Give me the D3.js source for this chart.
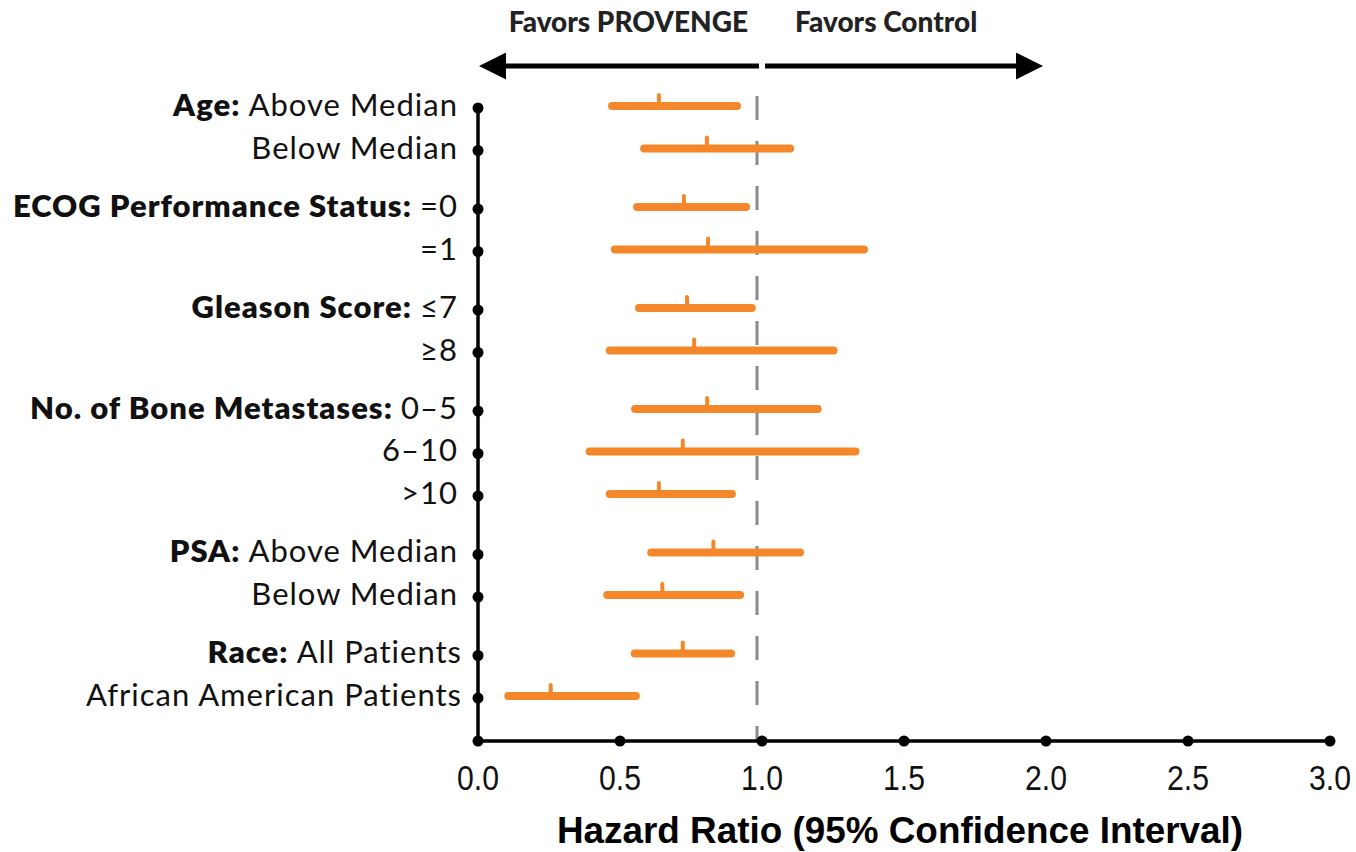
<!DOCTYPE html>
<meta charset="utf-8">
<style>
body { margin: 0; background: #fff; }
.rowlabel { font-family: Lato, "Noto Sans", sans-serif; font-size: 31px; letter-spacing: 1px; fill: #111; }
.favors { font-family: Lato, "Noto Sans", sans-serif; font-size: 28px; font-weight: 900; fill: #222; }
.tick-label { font-family: "Liberation Sans", Arial, sans-serif; font-size: 36px; fill: #111; }
.xtitle { font-family: "Liberation Sans", Arial, sans-serif; font-size: 37px; font-weight: 700; fill: #000; }
</style>
<body>
<svg width="1356" height="852"></svg>
<script src="https://cdn.jsdelivr.net/npm/d3@7"></script>
<script>
// subgroup rows, top to bottom
var boldText = ["Age:", "", "ECOG Performance Status:", "", "Gleason Score:", "", "No. of Bone Metastases:", "", "", "PSA:", "", "Race:", ""];
var plainText = ["Above Median", "Below Median", "=0", "=1", "\u22647", "\u22658", "0\u20135", "6\u201310", ">10", "Above Median", "Below Median", "All Patients", "African American Patients"];
var groupOf = [0, 0, 1, 1, 2, 2, 3, 3, 3, 4, 4, 5, 5];

// hazard ratio and 95% CI
var hr   = [0.637, 0.806, 0.725, 0.810, 0.736, 0.761, 0.807, 0.721, 0.637, 0.829, 0.649, 0.721, 0.256];
var ciLo = [0.472, 0.585, 0.560, 0.482, 0.567, 0.464, 0.553, 0.393, 0.464, 0.610, 0.455, 0.552, 0.107];
var ciHi = [0.912, 1.099, 0.944, 1.359, 0.964, 1.252, 1.196, 1.329, 0.894, 1.134, 0.923, 0.891, 0.556];

var xTicks = [0, 0.5, 1, 1.5, 2, 2.5, 3];
var xTickLabels = ["0.0", "0.5", "1.0", "1.5", "2.0", "2.5", "3.0"];

var svg = d3.select("svg");
var orange = "#f5872b";

var x = d3.scaleLinear().domain([0, 3]).range([478, 1330]);

var groupGap = 0.376;
var slot = function(i) { return i + groupOf[i] * groupGap; };
var y = d3.scaleLinear()
    .domain([0, slot(plainText.length - 1)])
    .range([106, 696]);

var axisY = 741;

// header arrows
svg.append("defs").append("marker")
    .attr("id", "arrow")
    .attr("viewBox", "0 0 10 10")
    .attr("refX", 0)
    .attr("refY", 5)
    .attr("markerWidth", 6.4)
    .attr("markerHeight", 5.4)
    .attr("markerUnits", "strokeWidth")
    .attr("orient", "auto")
  .append("path")
    .attr("d", "M0,0L10,5L0,10Z")
    .attr("fill", "#000");

svg.append("line")
    .attr("x1", x(1) - 3).attr("x2", x(0) + 28)
    .attr("y1", 66).attr("y2", 66)
    .attr("stroke", "#000").attr("stroke-width", 5)
    .attr("marker-end", "url(#arrow)");
svg.append("line")
    .attr("x1", x(1) + 3).attr("x2", x(2) - 30)
    .attr("y1", 66).attr("y2", 66)
    .attr("stroke", "#000").attr("stroke-width", 5)
    .attr("marker-end", "url(#arrow)");

svg.append("text").attr("class", "favors")
    .attr("x", x(1) - 14).attr("y", 32)
    .attr("text-anchor", "end")
    .text("Favors PROVENGE");
svg.append("text").attr("class", "favors")
    .attr("x", x(1) + 33).attr("y", 32)
    .text("Favors Control");

// reference line at HR = 1
svg.append("line")
    .attr("x1", x(1) - 5).attr("x2", x(1) - 5)
    .attr("y1", 96).attr("y2", axisY)
    .attr("stroke", "#8a8a8a").attr("stroke-width", 3)
    .attr("stroke-dasharray", "24,21");

// axes
svg.append("line")
    .attr("x1", x(0)).attr("x2", x(0))
    .attr("y1", y(0)).attr("y2", axisY)
    .attr("stroke", "#000").attr("stroke-width", 3.5);
svg.append("line")
    .attr("x1", x(0)).attr("x2", x(3))
    .attr("y1", axisY).attr("y2", axisY)
    .attr("stroke", "#000").attr("stroke-width", 3.5);

svg.append("g").selectAll("circle")
    .data(xTicks)
    .enter().append("circle")
      .attr("cx", function(d) { return x(d); })
      .attr("cy", axisY)
      .attr("r", 5.5)
      .attr("fill", "#000");

// narrow tick labels (squeezed horizontally)
svg.append("g").selectAll("text")
    .data(xTicks)
    .enter().append("text")
      .attr("class", "tick-label")
      .attr("transform", function(d) { return "translate(" + x(d) + ",790) scale(0.84,1)"; })
      .attr("text-anchor", "middle")
      .text(function(d, i) { return xTickLabels[i]; });

svg.append("text").attr("class", "xtitle")
    .attr("x", 900).attr("y", 843)
    .attr("text-anchor", "middle")
    .attr("textLength", 686)
    .attr("lengthAdjust", "spacingAndGlyphs")
    .text("Hazard Ratio (95% Confidence Interval)");

// rows
var rows = svg.append("g").selectAll("g")
    .data(plainText)
    .enter().append("g");

rows.append("circle")
    .attr("cx", x(0))
    .attr("cy", function(d, i) { return y(slot(i)) + 2; })
    .attr("r", 5.5)
    .attr("fill", "#000");

var label = rows.append("text")
    .attr("class", "rowlabel")
    .attr("x", function(d, i) { return groupOf[i] == 5 ? 462 : 458; })
    .attr("y", function(d, i) { return y(slot(i)) + 10; })
    .attr("text-anchor", "end");
label.append("tspan")
    .attr("font-weight", 800)
    .text(function(d, i) { return boldText[i] ? boldText[i] + " " : ""; });
label.append("tspan")
    .text(function(d) { return d; });

rows.append("line")
    .attr("x1", function(d, i) { return x(ciLo[i]); })
    .attr("x2", function(d, i) { return x(ciHi[i]); })
    .attr("y1", function(d, i) { return y(slot(i)); })
    .attr("y2", function(d, i) { return y(slot(i)); })
    .attr("stroke", orange).attr("stroke-width", 8)
    .attr("stroke-linecap", "round");

rows.append("line")
    .attr("x1", function(d, i) { return x(hr[i]); })
    .attr("x2", function(d, i) { return x(hr[i]); })
    .attr("y1", function(d, i) { return y(slot(i)) - 2; })
    .attr("y2", function(d, i) { return y(slot(i)) - 11; })
    .attr("stroke", orange).attr("stroke-width", 4)
    .attr("stroke-linecap", "round");
</script>
</body>
